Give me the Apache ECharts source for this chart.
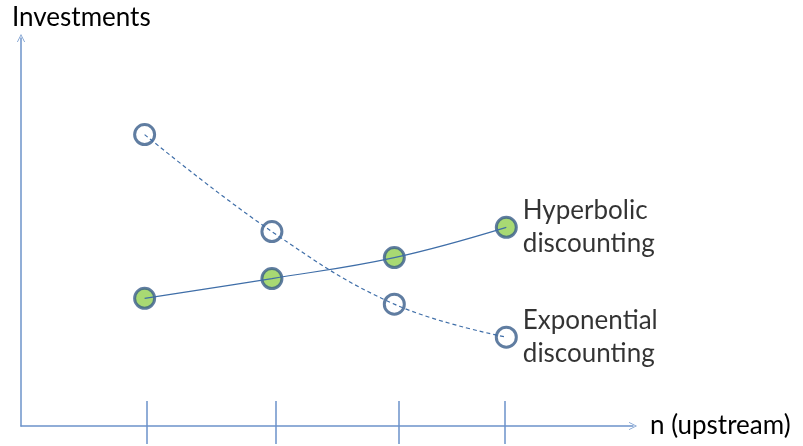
<!DOCTYPE html>
<html>
<head>
<meta charset="utf-8">
<script src="https://cdn.jsdelivr.net/npm/echarts@6/dist/echarts.min.js"></script>
<style>
  html, body { margin: 0; padding: 0; background: #fff; }
  #chart { width: 803px; height: 446px; }
</style>
</head>
<body>
<div id="chart"></div>
<script>
// n positions of the points and of the tick marks (axis runs 0..10)
var nPoints = [2.02, 4.10, 6.10, 7.93];
var nTicks = [2.06, 4.16, 6.17, 7.91];

// investments (axis runs 0..10)
var hyperbolic = [3.29, 3.80, 4.34, 5.12];
var exponential = [7.51, 5.01, 3.14, 2.29];

var yTitle = 'Investments';
var xTitle = 'n (upstream)';
var hyperLabel = 'Hyperbolic\ndiscounting';
var expoLabel = 'Exponential\ndiscounting';

var axisBlue = '#6c93ca';
var lineBlue = '#3f6ea8';
var ringBlue = '#385d8a';
var green = '#92d050';
var font = 'Lato';
var textSize = 26;

var arrowPath = 'path://M0,10 L5,0 L10,10 L9,10 L5,1.8 L1,10 Z';

var pairs = function(xs, ys) {
    var out = [];
    for (var i = 0; i < xs.length; i++) {
        out.push([xs[i], ys[i]]);
    }
    return out;
};

var withLabel = function(data, text) {
    var last = data[data.length - 1];
    data[data.length - 1] = {
        value: last,
        label: {
            show: true,
            position: 'right',
            distance: 5,
            formatter: text,
            fontFamily: font,
            fontSize: textSize,
            lineHeight: 33,
            color: '#000'
        }
    };
    return data;
};

var chart = echarts.init(document.getElementById('chart'));

var option = {
    animation: false,
    title: {
        text: yTitle,
        left: 7,
        top: 0,
        textStyle: { fontFamily: font, fontSize: textSize, fontWeight: 'normal', color: '#000' }
    },
    grid: { left: 21, right: 170, top: 38, bottom: 20 },
    xAxis: [{
        type: 'value',
        min: 0,
        max: 10,
        position: 'bottom',
        name: xTitle,
        nameLocation: 'end',
        nameGap: 17,
        nameTextStyle: { fontFamily: font, fontSize: textSize, color: '#000' },
        axisLine: {
            show: true,
            lineStyle: { color: axisBlue, width: 1.5 },
            symbol: ['none', arrowPath],
            symbolSize: [12, 8]
        },
        axisTick: {
            show: true,
            length: 18,
            customValues: nTicks,
            lineStyle: { color: axisBlue, width: 1.5 }
        },
        axisLabel: { show: false },
        splitLine: { show: false }
    }, {
        type: 'value',
        min: 0,
        max: 10,
        position: 'bottom',
        offset: 0,
        axisLine: { show: false },
        axisTick: {
            show: true,
            inside: true,
            length: 25,
            customValues: nTicks,
            lineStyle: { color: axisBlue, width: 1.5 }
        },
        axisLabel: { show: false },
        splitLine: { show: false }
    }],
    yAxis: {
        type: 'value',
        min: 0,
        max: 10,
        axisLine: {
            show: true,
            lineStyle: { color: axisBlue, width: 1.5 },
            symbol: ['none', arrowPath],
            symbolSize: [12, 8]
        },
        axisTick: { show: false },
        axisLabel: { show: false },
        splitLine: { show: false }
    },
    series: [{
        type: 'scatter',
        z: 2,
        symbol: 'circle',
        symbolSize: 20,
        itemStyle: { color: green, borderColor: ringBlue, borderWidth: 3 },
        data: withLabel(pairs(nPoints, hyperbolic), hyperLabel)
    }, {
        type: 'scatter',
        z: 2,
        symbol: 'circle',
        symbolSize: 20,
        itemStyle: { color: '#fff', borderColor: ringBlue, borderWidth: 3 },
        data: withLabel(pairs(nPoints, exponential), expoLabel)
    }, {
        type: 'line',
        z: 3,
        smooth: 0.4,
        showSymbol: false,
        lineStyle: { color: lineBlue, width: 1.2 },
        data: pairs(nPoints, hyperbolic)
    }, {
        type: 'line',
        z: 3,
        smooth: 0.4,
        showSymbol: false,
        lineStyle: { color: lineBlue, width: 1.2, type: [4, 3] },
        data: pairs(nPoints, exponential)
    }]
};

chart.setOption(option);
</script>
</body>
</html>
